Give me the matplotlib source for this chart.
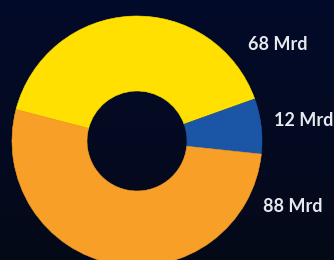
import matplotlib
matplotlib.use("Agg")
import matplotlib.pyplot as plt
import numpy as np
from matplotlib.colors import LinearSegmentedColormap

categories = ["A", "B", "C"]
values = [68, 12, 88]
labels = ["68 Mrd", "12 Mrd", "88 Mrd"]
colors = ["#ffe000", "#1a56a5", "#f89f27"]

W, H = 334, 260
fig = plt.figure(figsize=(W / 100, H / 100), dpi=100)
ax = fig.add_axes([0, 0, 1, 1])
ax.set_axis_off()

# background gradient
cmap = LinearSegmentedColormap.from_list("bg", ["#050918", "#020b2a"])
grad = np.linspace(0, 1, 256).reshape(-1, 1)
ax.imshow(grad, cmap=cmap, extent=[0, W, H, 0], aspect="auto", zorder=0)

cx, cy = 137, H - 141
R = 125
wedges, _ = ax.pie(values, colors=colors, startangle=165.4, counterclock=False,
                   center=(cx, cy), radius=R,
                   wedgeprops=dict(width=R - 50, zorder=2))
for w in wedges:
    w.set_edgecolor(w.get_facecolor())
    w.set_linewidth(0.4)

label_pos = [(278, 44), (304, 121), (293, 207)]
for txt, (x, y) in zip(labels, label_pos):
    ax.text(x, H - y, txt, color="#e6e9ee", fontsize=13, fontweight="bold",
            family=["Lato", "DejaVu Sans"], ha="center", va="center", zorder=3)

ax.set_xlim(0, W)
ax.set_ylim(0, H)
ax.set_aspect("auto")
fig.savefig("out.png", dpi=100)
